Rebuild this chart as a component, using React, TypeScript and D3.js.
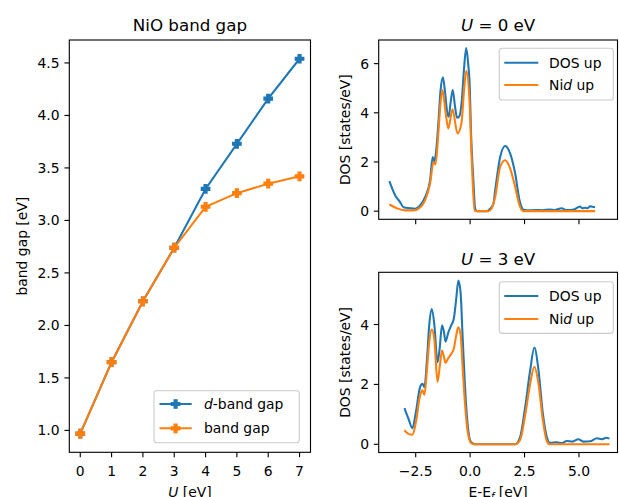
import React from "react";
import * as d3 from "d3";

// ---------- Data ----------
const U_VALUES = [0, 1, 2, 3, 4, 5, 6, 7];
const D_BAND_GAP = [0.97, 1.65, 2.23, 2.74, 3.3, 3.73, 4.16, 4.54];
const BAND_GAP = [0.97, 1.65, 2.23, 2.74, 3.13, 3.26, 3.35, 3.42];
const LEFT_Y_TICKS = [1.0, 1.5, 2.0, 2.5, 3.0, 3.5, 4.0, 4.5];
const LEFT_X_TICKS = [0, 1, 2, 3, 4, 5, 6, 7];

// U = 0 eV DOS
const U0_DOS_E = [-3.71, -3.44, -3.22, -3.06, -2.76, -2.53, -2.3, -2.07, -1.84, -1.72, -1.65, -1.58, -1.46, -1.36, -1.25, -1.16, -1.05, -0.98, -0.9, -0.8, -0.7, -0.6, -0.5, -0.38, -0.28, -0.18, -0.08, -0.03, 0.05, 0.15, 0.23, 0.31, 0.77, 0.92, 1.07, 1.15, 1.38, 1.61, 1.84, 2.07, 2.27, 2.45, 2.7, 3.0, 3.3, 3.67, 3.9, 4.21, 4.4, 4.6, 4.8, 5.05, 5.15, 5.28, 5.4, 5.51, 5.62, 5.74];
const U0_DOS_V = [1.22, 0.64, 0.37, 0.16, 0.12, 0.1, 0.23, 0.57, 1.25, 2.2, 2.02, 2.3, 3.57, 4.9, 5.44, 4.9, 4.0, 3.84, 4.4, 4.93, 4.3, 3.8, 3.85, 4.52, 5.8, 6.63, 5.9, 5.33, 3.0, 1.25, 0.1, 0.0, 0.0, 0.1, 0.3, 0.84, 2.2, 2.65, 2.34, 1.53, 0.44, 0.06, 0.03, 0.05, 0.04, 0.07, 0.05, 0.12, 0.05, 0.05, 0.08, 0.19, 0.12, 0.14, 0.12, 0.2, 0.18, 0.16];
const U0_NID_E = [-3.71, -3.37, -2.99, -2.6, -2.37, -2.07, -1.84, -1.68, -1.59, -1.46, -1.36, -1.27, -1.13, -1.0, -0.81, -0.58, -0.4, -0.28, -0.18, -0.03, 0.05, 0.12, 0.21, 0.3, 0.84, 0.98, 1.15, 1.38, 1.61, 1.84, 2.07, 2.27, 2.45, 5.74];
const U0_NID_V = [0.27, 0.12, 0.03, 0.03, 0.1, 0.44, 1.12, 2.0, 1.9, 3.16, 4.4, 4.93, 4.04, 3.36, 4.14, 3.16, 3.57, 4.9, 5.71, 4.52, 2.6, 1.12, 0.02, 0.0, 0.0, 0.1, 0.57, 1.8, 2.07, 1.73, 0.98, 0.23, 0.0, 0.0];

// U = 3 eV DOS
const U3_DOS_E = [-3.02, -2.83, -2.65, -2.49, -2.3, -2.19, -2.1, -1.98, -1.88, -1.76, -1.64, -1.5, -1.41, -1.29, -1.2, -1.13, -1.0, -0.87, -0.75, -0.64, -0.54, -0.44, -0.34, -0.23, -0.11, 0.0, 0.15, 0.3, 2.07, 2.3, 2.53, 2.76, 2.95, 3.14, 3.34, 3.52, 3.67, 3.98, 4.2, 4.44, 4.7, 4.97, 5.2, 5.51, 5.82, 6.05, 6.25, 6.4];
const U3_DOS_V = [1.21, 0.85, 0.54, 1.08, 1.91, 2.02, 1.91, 2.85, 3.97, 4.52, 3.97, 2.74, 3.13, 3.97, 3.74, 3.43, 3.74, 3.97, 4.19, 4.85, 5.47, 5.08, 3.52, 1.85, 0.63, 0.13, 0.02, 0.0, 0.0, 0.25, 1.25, 2.48, 3.23, 2.48, 1.03, 0.25, 0.05, 0.07, 0.04, 0.11, 0.09, 0.17, 0.09, 0.1, 0.2, 0.17, 0.22, 0.19];
const U3_NID_E = [-3.02, -2.83, -2.65, -2.49, -2.3, -2.19, -2.1, -1.98, -1.88, -1.76, -1.64, -1.5, -1.39, -1.29, -1.2, -1.13, -1.0, -0.87, -0.75, -0.64, -0.55, -0.44, -0.34, -0.23, -0.11, 0.05, 0.2, 2.07, 2.3, 2.53, 2.76, 2.95, 3.14, 3.34, 3.52, 3.67, 6.4];
const U3_NID_V = [0.47, 0.35, 0.32, 0.74, 1.63, 1.8, 1.65, 2.52, 3.41, 3.83, 3.47, 2.08, 2.63, 3.13, 2.91, 2.72, 2.88, 3.02, 3.19, 3.63, 3.91, 3.69, 2.52, 1.3, 0.41, 0.04, 0.0, 0.0, 0.15, 0.98, 2.03, 2.59, 2.03, 0.81, 0.11, 0.0, 0.0];

const E_LIMITS = [-4.2, 6.77];
const E_TICKS = [-2.5, 0.0, 2.5, 5.0];
const U0_Y_TICKS = [0, 2, 4, 6];
const U3_Y_TICKS = [0, 2, 4];

// ---------- Style ----------
const BLUE = "#1f77b4";
const ORANGE = "#ff7f0e";
const FONT = "DejaVu Sans, sans-serif";
const FS = 13.9;
const TITLE_FS = 16.7;
const TICK_LEN = 4.86;
const TICK_PAD = 4.86;
const LW = 2.08;
const SPINE_W = 1.11;

function padDomain(vals: number[]): [number, number] {
  const [mn, mx] = d3.extent(vals) as [number, number];
  const s = mx - mn;
  return [mn - 0.05 * s, mx + 0.05 * s];
}

const fmt1 = d3.format(".1f");
const fmtMinus = (v: number) => fmt1(v).replace("-", "\u2212");

function Frame({ x0, x1, y0, y1 }: any) {
  return (
    <rect x={x0} y={y0} width={x1 - x0} height={y1 - y0} fill="none" stroke="#000" strokeWidth={SPINE_W} />
  );
}

function XAxis({ scale, y, ticks, labels, fmt }: any) {
  return (
    <g>
      {ticks.map((t: number, i: number) => (
        <g key={i}>
          <line x1={scale(t)} x2={scale(t)} y1={y} y2={y + TICK_LEN} stroke="#000" strokeWidth={SPINE_W} />
          {labels && (
            <text x={scale(t)} y={y + TICK_LEN + TICK_PAD + 13.6} textAnchor="middle" fontSize={FS} fontFamily={FONT} fill="#000">
              {fmt(t)}
            </text>
          )}
        </g>
      ))}
    </g>
  );
}

function YAxis({ scale, x, ticks, fmt }: any) {
  return (
    <g>
      {ticks.map((t: number, i: number) => (
        <g key={i}>
          <line x1={x - TICK_LEN} x2={x} y1={scale(t)} y2={scale(t)} stroke="#000" strokeWidth={SPINE_W} />
          <text x={x - TICK_LEN - TICK_PAD} y={scale(t)} dy="0.36em" textAnchor="end" fontSize={FS} fontFamily={FONT} fill="#000">
            {fmt(t)}
          </text>
        </g>
      ))}
    </g>
  );
}

function plusPath(size: number) {
  const s = size / 6;
  const pts = [[-1, -3], [1, -3], [1, -1], [3, -1], [3, 1], [1, 1], [1, 3], [-1, 3], [-1, 1], [-3, 1], [-3, -1], [-1, -1]];
  return "M" + pts.map((p) => `${p[0] * s},${p[1] * s}`).join("L") + "Z";
}
const MARKER = plusPath(8.33);

function Legend({ x, y, w, h, items }: any) {
  return (
    <g>
      <rect x={x} y={y} width={w} height={h} rx={2.8} ry={2.8} fill="#fff" fillOpacity={0.8} stroke="#cccccc" strokeWidth={1.11} />
      {items.map((it: any, i: number) => (
        <g key={i}>
          <line x1={it.lx0} x2={it.lx1} y1={it.y} y2={it.y} stroke={it.color} strokeWidth={LW} />
          {it.marker && (
            <path d={MARKER} transform={`translate(${(it.lx0 + it.lx1) / 2},${it.y})`} fill={it.color} stroke={it.color} strokeWidth={1.39} />
          )}
          <text x={it.tx} y={it.y} dy="0.36em" fontSize={FS} fontFamily={FONT} fill="#000">
            {it.label}
          </text>
        </g>
      ))}
    </g>
  );
}

export default function App() {
  const W = 619;
  const H = 497;

  // Left panel
  const L = { x0: 69.3, x1: 310.5, y0: 40, y1: 452.3 };
  const lx = d3.scaleLinear().domain(padDomain(U_VALUES)).range([L.x0, L.x1]);
  const ly = d3.scaleLinear().domain(padDomain([...D_BAND_GAP, ...BAND_GAP])).range([L.y1, L.y0]);
  const lline = d3.line<number>().x((_, i) => lx(U_VALUES[i])).y((d) => ly(d));

  // Right panels
  const T = { x0: 378.7, x1: 617.5, y0: 40, y1: 219.3 };
  const B = { x0: 378.7, x1: 617.5, y0: 272.3, y1: 452.5 };
  const ex = d3.scaleLinear().domain(E_LIMITS).range([T.x0, T.x1]);
  const ty = d3.scaleLinear().domain(padDomain([...U0_DOS_V, ...U0_NID_V])).range([T.y1, T.y0]);
  const by = d3.scaleLinear().domain(padDomain([...U3_DOS_V, ...U3_NID_V])).range([B.y1, B.y0]);

  const curve = (E: number[], V: number[], ys: any) =>
    d3.line<number>().x((_, i) => ex(E[i])).y((d) => ys(d)).curve(d3.curveMonotoneX)(V) as string;

  const italic = (s: string) => <tspan fontStyle="italic">{s}</tspan>;

  return (
    <svg width={W} height={H} style={{ position: "absolute", left: 0, top: 0, background: "#fff" }}>
      <rect x={0} y={0} width={W} height={H} fill="#fff" />

      {/* ---- Left panel ---- */}
      <defs>
        <clipPath id="clipL"><rect x={L.x0} y={L.y0} width={L.x1 - L.x0} height={L.y1 - L.y0} /></clipPath>
        <clipPath id="clipT"><rect x={T.x0} y={T.y0} width={T.x1 - T.x0} height={T.y1 - T.y0} /></clipPath>
        <clipPath id="clipB"><rect x={B.x0} y={B.y0} width={B.x1 - B.x0} height={B.y1 - B.y0} /></clipPath>
      </defs>

      <g>
        <path d={lline(D_BAND_GAP) as string} fill="none" stroke={BLUE} strokeWidth={LW} />
        {D_BAND_GAP.map((v, i) => (
          <path key={"b" + i} d={MARKER} transform={`translate(${lx(U_VALUES[i])},${ly(v)})`} fill={BLUE} stroke={BLUE} strokeWidth={1.39} />
        ))}
        <path d={lline(BAND_GAP) as string} fill="none" stroke={ORANGE} strokeWidth={LW} />
        {BAND_GAP.map((v, i) => (
          <path key={"o" + i} d={MARKER} transform={`translate(${lx(U_VALUES[i])},${ly(v)})`} fill={ORANGE} stroke={ORANGE} strokeWidth={1.39} />
        ))}
      </g>
      <Frame {...L} />
      <XAxis scale={lx} y={L.y1} ticks={LEFT_X_TICKS} labels fmt={(t: number) => String(t)} />
      <YAxis scale={ly} x={L.x0} ticks={LEFT_Y_TICKS} fmt={fmt1} />
      <text x={(L.x0 + L.x1) / 2} y={31} textAnchor="middle" fontSize={TITLE_FS} fontFamily={FONT}>NiO band gap</text>
      <text x={(L.x0 + L.x1) / 2} y={496.5} textAnchor="middle" fontSize={FS} fontFamily={FONT}>
        {italic("U")} [eV]
      </text>
      <text transform={`translate(26.5,${(L.y0 + L.y1) / 2}) rotate(-90)`} textAnchor="middle" fontSize={FS} fontFamily={FONT}>
        band gap [eV]
      </text>
      <Legend
        x={154} y={390.7} w={145.3} h={52}
        items={[
          { lx0: 159.5, lx1: 191.7, y: 404, tx: 204, color: BLUE, marker: true, label: <>{italic("d")}-band gap</> },
          { lx0: 159.5, lx1: 191.7, y: 428.3, tx: 204, color: ORANGE, marker: true, label: "band gap" },
        ]}
      />

      {/* ---- Top right panel ---- */}
      <g clipPath="url(#clipT)">
        <path d={curve(U0_DOS_E, U0_DOS_V, ty)} fill="none" stroke={BLUE} strokeWidth={LW} strokeLinejoin="round" />
        <path d={curve(U0_NID_E, U0_NID_V, ty)} fill="none" stroke={ORANGE} strokeWidth={LW} strokeLinejoin="round" />
      </g>
      <Frame {...T} />
      <XAxis scale={ex} y={T.y1} ticks={E_TICKS} labels={false} fmt={fmtMinus} />
      <YAxis scale={ty} x={T.x0} ticks={U0_Y_TICKS} fmt={(t: number) => String(t)} />
      <text x={(T.x0 + T.x1) / 2} y={31} textAnchor="middle" fontSize={TITLE_FS} fontFamily={FONT}>
        {italic("U")} = 0 eV
      </text>
      <text transform={`translate(350,${(T.y0 + T.y1) / 2}) rotate(-90)`} textAnchor="middle" fontSize={FS} fontFamily={FONT}>
        DOS [states/eV]
      </text>
      <Legend
        x={499.3} y={48.3} w={114} h={51.7}
        items={[
          { lx0: 504.3, lx1: 538.3, y: 62.7, tx: 549, color: BLUE, label: "DOS up" },
          { lx0: 504.3, lx1: 538.3, y: 85, tx: 549, color: ORANGE, label: <>Ni{italic("d")} up</> },
        ]}
      />

      {/* ---- Bottom right panel ---- */}
      <g clipPath="url(#clipB)">
        <path d={curve(U3_DOS_E, U3_DOS_V, by)} fill="none" stroke={BLUE} strokeWidth={LW} strokeLinejoin="round" />
        <path d={curve(U3_NID_E, U3_NID_V, by)} fill="none" stroke={ORANGE} strokeWidth={LW} strokeLinejoin="round" />
      </g>
      <Frame {...B} />
      <XAxis scale={ex} y={B.y1} ticks={E_TICKS} labels fmt={fmtMinus} />
      <YAxis scale={by} x={B.x0} ticks={U3_Y_TICKS} fmt={(t: number) => String(t)} />
      <text x={(B.x0 + B.x1) / 2} y={265} textAnchor="middle" fontSize={TITLE_FS} fontFamily={FONT}>
        {italic("U")} = 3 eV
      </text>
      <text transform={`translate(350,${(B.y0 + B.y1) / 2}) rotate(-90)`} textAnchor="middle" fontSize={FS} fontFamily={FONT}>
        DOS [states/eV]
      </text>
      <text x={(B.x0 + B.x1) / 2} y={497} textAnchor="middle" fontSize={FS} fontFamily={FONT}>
        E-E<tspan fontSize={FS * 0.7} dy={2.5} fontStyle="italic">f</tspan><tspan dy={-2.5}> [eV]</tspan>
      </text>
      <Legend
        x={499.3} y={281.7} w={114} h={51.7}
        items={[
          { lx0: 504.3, lx1: 538.3, y: 296, tx: 549, color: BLUE, label: "DOS up" },
          { lx0: 504.3, lx1: 538.3, y: 319, tx: 549, color: ORANGE, label: <>Ni{italic("d")} up</> },
        ]}
      />
    </svg>
  );
}
